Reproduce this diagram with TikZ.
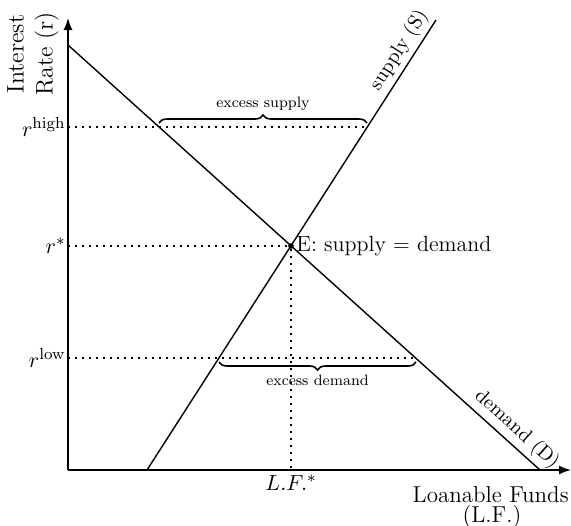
\documentclass[tikz,border=0pt]{standalone}
\usetikzlibrary{arrows.meta,decorations.pathreplacing,calc}
\begin{document}
\begin{tikzpicture}[x=0.5pt,y=-0.5pt,
  axis/.style={line width=0.75pt,-{Latex[length=6pt,width=4.5pt]}},
  curve/.style={line width=0.7pt},
  guide/.style={dash pattern=on 0.9pt off 2.6pt,line width=0.7pt},
  brc/.style={decorate,decoration={brace,amplitude=4pt},line width=0.8pt},
  lbl/.style={font=\fontsize{11}{13}\selectfont,inner sep=1pt},
  slbl/.style={font=\fontsize{10}{12}\selectfont,inner sep=1pt},
  small/.style={font=\fontsize{7.5}{9}\selectfont,inner sep=1pt}]
\useasboundingbox (0,0) rectangle (571,525);
% axes
\coordinate (O) at (68,470);
\coordinate (Ytop) at (68,18);
\coordinate (Xend) at (571,470);
\draw[axis] (O) -- (Ytop);
\draw[axis] (O) -- (Xend);
% curves
\coordinate (D1) at (68,45);
\coordinate (D2) at (540,470);
\coordinate (S1) at (147,470);
\coordinate (S2) at (436,20);
\draw[curve] (D1) -- (D2) node[pos=0.93,sloped,above=1pt,slbl] {demand (D)};
\draw[curve] (S1) -- (S2) node[pos=0.915,sloped,above=1pt,slbl] {supply (S)};
% equilibrium
\node[circle,fill,inner sep=1pt] (E) at (291,246) {};
\node[lbl,anchor=west] (Elbl) at (294,246) {E: supply = demand};
% levels
\coordinate (Rh) at (68,127);
\coordinate (Rs) at (68,246);
\coordinate (Rl) at (68,358);
\coordinate (Hd) at (159,127);
\coordinate (Hs) at (367,127);
\coordinate (Ls) at (219,358);
\coordinate (Ld) at (416,358);
\coordinate (LF) at (291,470);
\draw[guide] (Rh) -- (Hs);
\draw[guide] (Rs) -- (E);
\draw[guide] (Rl) -- (Ld);
\draw[guide] (E) -- (LF);
% tick labels
\node[lbl,anchor=east] (th) at (Rh) {$r^{\mathrm{high}}$};
\node[lbl,anchor=east] (ts) at (Rs) {$r^{*}$};
\node[lbl,anchor=east] (tl) at (Rl) {$r^{\mathrm{low}}$};
\node[lbl,anchor=north] (tlf) at ($(LF)+(0,3)$) {$L.F.^{*}$};
% braces
\draw[brc] ($(Hd)+(0,-4)$) -- ($(Hs)+(0,-4)$) node[midway,above=5pt,small] {excess supply};
\draw[brc] ($(Ld)+(0,4)$) -- ($(Ls)+(0,4)$) node[midway,below=5pt,small] {excess demand};
% axis titles
\node[rotate=90,align=center,inner sep=0pt,font=\fontsize{12}{14.5}\selectfont] (ytitle) at (33,54) {Interest\\Rate (r)};
\node[anchor=east,inner sep=0pt,font=\fontsize{11.5}{13}\selectfont] (xtitle) at (569,495) {Loanable Funds};
\node[inner sep=0pt,font=\fontsize{11.5}{13}\selectfont] (xtitle2) at (492,517) {(L.F.)};
\end{tikzpicture}
\end{document}
